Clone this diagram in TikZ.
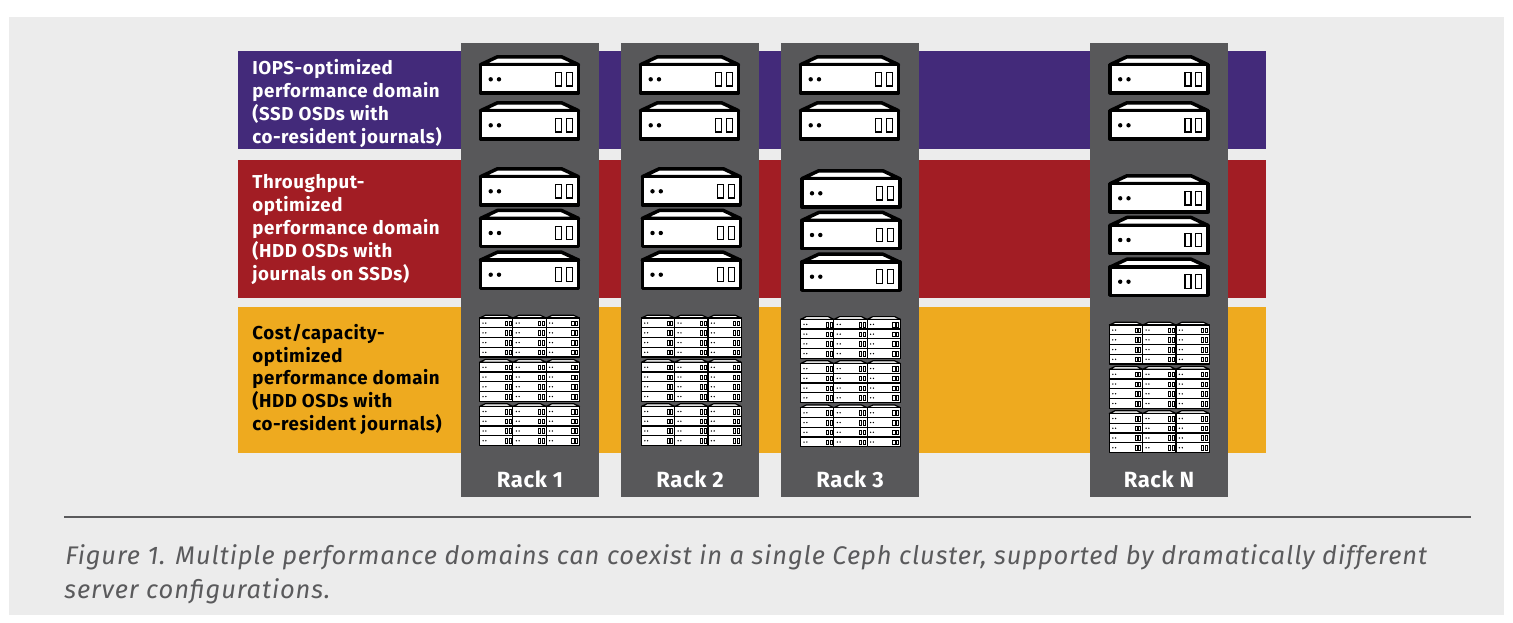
\documentclass[tikz,border=0pt]{standalone}
\usepackage{fontspec}
\setmainfont{Fira Sans}
\newfontfamily\domainfont[LetterSpace=3]{Fira Sans}
\newfontfamily\rackfont[LetterSpace=3]{Fira Sans}
\newfontfamily\notefont[LetterSpace=3.5]{Fira Sans}
\definecolor{panel}{RGB}{236,236,236}
\definecolor{rackgray}{RGB}{88,88,90}
\definecolor{iops}{RGB}{67,42,122}
\definecolor{through}{RGB}{162,29,36}
\definecolor{cost}{RGB}{238,170,31}
\definecolor{notegray}{RGB}{90,90,92}
\tikzstyle{domlabel}=[anchor=north west, align=left, inner sep=0pt, font=\domainfont\bfseries\fontsize{9.35}{11.45}\selectfont]
\tikzstyle{racklabel}=[text=white, inner sep=0pt, font=\rackfont\bfseries\fontsize{11}{13}\selectfont]
\tikzstyle{notetext}=[anchor=base west, inner sep=0pt, text=notegray, font=\notefont\itshape\fontsize{12.75}{15}\selectfont]
\tikzstyle{bigsrv}=[line width=1.75pt]
\tikzstyle{smallsrv}=[xscale=.34, yscale=.345, line width=.6pt]
\newcommand{\srvroof}{
    \draw[fill=white, line join=round] (-49,9.7) -- (-32,1.75) -- (32,1.75) -- (49,9.7) -- cycle;
}
\newcommand{\srvbody}{
    \draw[fill=white, line join=round] (-49,9.7) rectangle (49,37.9);
    \fill (-38.8,24.3) circle (2.2);
    \fill (-30.5,24.3) circle (2.2);
    \draw[line width=.55\pgflinewidth] (26,17.5) rectangle (32,31);
    \draw[line width=.55\pgflinewidth] (36.8,17.5) rectangle (42.8,31);
}
\tikzset{
    server/.pic={\srvroof \srvbody},
    bladeroof/.pic={\srvroof},
    blade/.pic={\srvbody}
}
\begin{document}
\begin{tikzpicture}[x=.5pt, y=-.5pt]
    \useasboundingbox (0,0) rectangle (1513,622);
    \fill[panel] (9,17) rectangle (1504,615);
    %performance domains
    \fill[iops] (238,51) rectangle (1266,149);
    \fill[through] (238,160) rectangle (1266,298);
    \fill[cost] (238,307) rectangle (1266,453);
    %racks
    \foreach \x/\name/\txt in {461/r1/Rack 1, 621/r2/Rack 2, 781/r3/Rack 3, 1090/rN/Rack N}{
        \fill[rackgray] (\x,43) rectangle ++(138,454);
        \node[racklabel] (\name) at (\x+69,479) {\txt};
    }
    %top servers
    \foreach \x in {529.5,689.5,849.5,1159}{
        \foreach \y in {55,101}{
            \pic[bigsrv] at (\x,\y) {server};
        }
    }
    %middle servers
    \foreach \x/\y in {529.5/167,691.3/167,850.8/169,1159/174}{
        \foreach \n in {0,1,2}{
            \pic[bigsrv] at (\x,\y+41.7*\n) {server};
        }
    }
    %bottom blocks of blades
    \foreach \x/\y in {529.5/314.7,691.3/314.7,850.5/316,1159.3/321.7}{
        \foreach \n in {0,1,2}{
            \foreach \c in {-33.3,0,33.3}{
                \pic[smallsrv] at (\x+\c,\y+44.2*\n) {bladeroof};
                \foreach \r in {0,1,2,3}{
                    \pic[smallsrv] at (\x+\c,\y+44.2*\n+9.75*\r) {blade};
                }
            }
        }
    }
    %labels
    \node[domlabel, text=white] (iopsl) at (252,59) {IOPS-optimized\\performance domain\\(SSD OSDs with\\co-resident journals)};
    \node[domlabel, text=white] (thrl) at (252,174) {Throughput-\\optimized\\performance domain\\(HDD OSDs with\\journals on SSDs)};
    \node[domlabel, text=black] (costl) at (252,323.5) {Cost/capacity-\\optimized\\performance domain\\(HDD OSDs with\\co-resident journals)};
    %caption
    \draw[line width=1pt, color=notegray] (64,517) -- (1471,517);
    \node[notetext] (cap1) at (65,564) {Figure 1. Multiple performance domains can coexist in a single Ceph cluster, supported by dramatically different};
    \node[notetext] (cap2) at (64,598) {server configurations.};
\end{tikzpicture}
\end{document}
